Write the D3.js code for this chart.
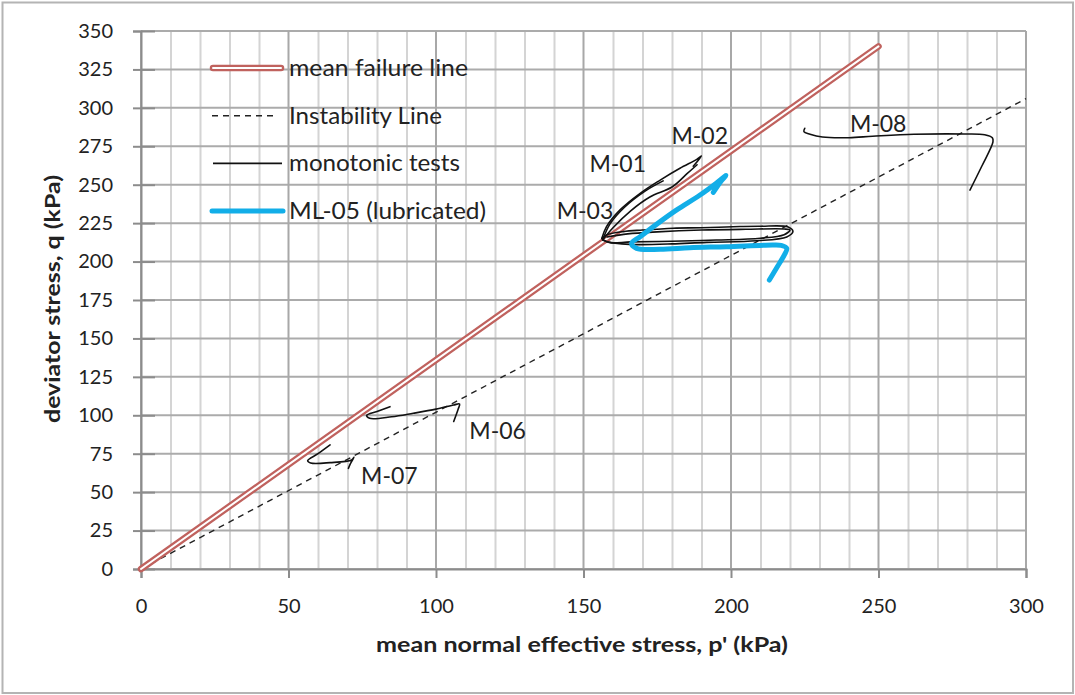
<!DOCTYPE html>
<html>
<head>
<meta charset="utf-8">
<script src="https://cdn.jsdelivr.net/npm/d3@7"></script>
<style>
  body { margin: 0; background: #fff; }
  text { font-family: Lato, "Open Sans", sans-serif; fill: #222; }
</style>
</head>
<body>
<div id="chart"></div>
<script>
// axis ticks
var pTicks = [0, 50, 100, 150, 200, 250, 300];
var pMinorTicks = d3.range(0, 301, 10);
var qTicks = [0, 25, 50, 75, 100, 125, 150, 175, 200, 225, 250, 275, 300, 325, 350];

// reference lines (p', q)
var failureLine = [[0, 0], [250, 340]];
var instabilityLine = [[0, 0], [300, 306]];

// monotonic test stress paths (p', q)
var m01 = [[156.2, 215], [157.8, 222.7], [162.4, 233.6], [169.2, 244.4], [176, 253], [182.7, 260.7], [188.4, 266.5], [190, 268.7], [187.2, 262]];
var m02 = [[156.5, 214], [160, 222], [166, 233], [172.5, 242], [180, 248.5], [185, 257], [188.5, 263]];
var m02b = [[156.8, 215.5], [159, 224.5], [164, 235.5], [171, 246], [177, 252.5]];
var m03 = [[156.2, 215], [157.8, 213], [163, 211.5], [169, 211], [180, 211.5], [191.8, 212.5], [208.7, 213.5], [218.9, 216], [221, 219.5], [219.4, 222.5], [210, 223], [203, 222.8], [190, 222], [180.4, 221.7], [170, 220.5], [163.5, 219.5], [157.8, 217.3], [156.2, 215]];
var m03b = [[156.5, 214], [159, 212.3], [166, 212.8], [180, 213.2], [195, 214], [210, 215.2], [218, 217.5], [220, 220.5], [218, 221.2], [205, 221], [190, 220.5], [175, 219.3], [165, 218], [158, 216]];
var m06 = [[84.4, 105.6], [80, 102.5], [76.5, 100], [77.5, 98], [85, 99], [92.3, 101.3], [100, 104], [106, 106.7], [108, 107.3], [107.5, 104], [106, 96]];
var m07 = [[64.1, 80.7], [60, 75], [56.5, 70.5], [57.5, 69], [64.1, 69.2], [71.4, 70.9], [72.2, 72.7], [71, 68.5], [70.3, 65.5]];
var m08 = [[225, 286.7], [224.7, 284.5], [226.8, 282.8], [231, 281], [240, 280.6], [248, 281.5], [262, 282.8], [279, 283], [286, 282.5], [288.6, 280.5], [288.8, 277.8], [285, 262], [281, 246.5]];

// lubricated test
var ml05 = [[213, 188], [215.5, 196], [218, 204], [218.9, 208.6], [217, 210.5], [214.3, 210.8], [198.5, 209.7], [186, 209], [176, 208], [168, 208.6], [166.3, 211.9], [169.2, 216.2], [176, 226], [181.6, 233.6], [189.5, 243.3], [195, 251], [198.3, 256], [196.5, 252], [194, 245]];

var monotonic = [m01, m02, m02b, m03, m03b, m06, m07, m08];

var curveLabels = [
  {name: "M-01", p: 152, q: 258},
  {name: "M-02", p: 179.8, q: 276.5},
  {name: "M-03", p: 140.9, q: 228},
  {name: "M-06", p: 111.3, q: 84.5},
  {name: "M-07", p: 74.6, q: 55},
  {name: "M-08", p: 240.3, q: 284}
];

var legendItems = ["mean failure line", "Instability Line", "monotonic tests", "ML-05 (lubricated)"];
var legendWidths = [179, 153, 171, 197];

var W = 1075, H = 695;
var svg = d3.select("#chart").append("svg")
    .attr("width", W)
    .attr("height", H);

svg.append("rect")
   .attr("x", 2.5).attr("y", 2.5)
   .attr("width", W - 4.5).attr("height", H - 4.5)
   .attr("fill", "#fff")
   .attr("stroke", "#b4b4b4")
   .attr("stroke-width", 2);

var x = d3.scaleLinear().domain([0, 300]).range([141, 1026]);
var y = d3.scaleLinear().domain([0, 350]).range([569, 31]);

// grid
var grid = svg.append("g");
grid.selectAll(".vminor")
    .data(pMinorTicks.filter(function(d) { return d % 50 !== 0; }))
    .enter().append("line")
    .attr("x1", function(d) { return x(d) + 0.5; })
    .attr("x2", function(d) { return x(d) + 0.5; })
    .attr("y1", y(350)).attr("y2", y(0))
    .attr("stroke", "#d4d4d4").attr("stroke-width", 2);
grid.selectAll(".hline")
    .data(qTicks)
    .enter().append("line")
    .attr("x1", x(0)).attr("x2", x(300))
    .attr("y1", function(d) { return y(d); })
    .attr("y2", function(d) { return y(d); })
    .attr("stroke", "#ababab").attr("stroke-width", 2);
grid.selectAll(".vmajor")
    .data(pTicks)
    .enter().append("line")
    .attr("x1", function(d) { return x(d); })
    .attr("x2", function(d) { return x(d); })
    .attr("y1", y(350)).attr("y2", y(0))
    .attr("stroke", "#a8a8a8").attr("stroke-width", 2);

// axes
var yAxis = svg.append("g")
    .attr("transform", "translate(" + x(0) + ",0)")
    .call(d3.axisLeft(y).tickValues(qTicks).tickSize(8).tickPadding(20));
yAxis.selectAll(".tick line").attr("x1", 14);

var xAxis = svg.append("g")
    .attr("transform", "translate(0," + y(0) + ")")
    .call(d3.axisBottom(x).tickValues(pTicks).tickSize(9).tickPadding(21));

svg.selectAll(".domain").attr("stroke", "#8c8c8c").attr("stroke-width", 2);
svg.selectAll(".tick line").attr("stroke", "#8c8c8c").attr("stroke-width", 2);
svg.selectAll(".tick text")
   .attr("font-family", "Lato, sans-serif")
   .attr("font-size", 20)
   .attr("fill", "#262626");

// axis titles
svg.append("text")
   .attr("x", 376).attr("y", 652)
   .attr("font-size", 21).attr("font-weight", "bold")
   .attr("textLength", 412).attr("lengthAdjust", "spacingAndGlyphs")
   .text("mean normal effective stress, p' (kPa)");
svg.append("text")
   .attr("transform", "translate(60,423) rotate(-90)")
   .attr("font-size", 21).attr("font-weight", "bold")
   .attr("textLength", 248).attr("lengthAdjust", "spacingAndGlyphs")
   .text("deviator stress, q (kPa)");

var line = d3.line()
    .x(function(d) { return x(d[0]); })
    .y(function(d) { return y(d[1]); });
var smooth = d3.line()
    .curve(d3.curveCatmullRom.alpha(0.5))
    .x(function(d) { return x(d[0]); })
    .y(function(d) { return y(d[1]); });

// instability line
svg.append("path")
   .attr("d", line(instabilityLine))
   .attr("fill", "none").attr("stroke", "#222")
   .attr("stroke-width", 1.4).attr("stroke-dasharray", "6,5");

// mean failure line (double stroke)
svg.append("path")
   .attr("d", line(failureLine))
   .attr("fill", "none").attr("stroke", "#c0625e")
   .attr("stroke-width", 6.5).attr("stroke-linecap", "round");
svg.append("path")
   .attr("d", line(failureLine))
   .attr("fill", "none").attr("stroke", "#fff")
   .attr("stroke-width", 2).attr("stroke-linecap", "round");

// monotonic tests
svg.selectAll(".mono")
   .data(monotonic)
   .enter().append("path")
   .attr("class", "mono")
   .attr("d", smooth)
   .attr("fill", "none").attr("stroke", "#111")
   .attr("stroke-width", 1.6)
   .attr("stroke-linejoin", "round").attr("stroke-linecap", "round");

// lubricated test
svg.append("path")
   .attr("d", smooth(ml05))
   .attr("fill", "none").attr("stroke", "#12aee8")
   .attr("stroke-width", 5)
   .attr("stroke-linejoin", "round").attr("stroke-linecap", "round");

// curve labels
svg.selectAll(".clabel")
   .data(curveLabels)
   .enter().append("text")
   .attr("class", "clabel")
   .attr("x", function(d) { return x(d.p); })
   .attr("y", function(d) { return y(d.q); })
   .attr("font-family", "'Liberation Sans', Arial, sans-serif")
   .attr("font-size", 23)
   .attr("fill", "#1a1a2e")
   .text(function(d) { return d.name; });

// legend
var legend = svg.append("g").attr("transform", "translate(211,68)");
var rowH = 47.7;
var rows = legend.selectAll(".row")
    .data(legendItems)
    .enter().append("g")
    .attr("transform", function(d, i) { return "translate(0," + (i * rowH) + ")"; });

rows.each(function(d, i) {
  var g = d3.select(this);
  if (i === 0) {
    g.append("line").attr("x1", 2).attr("x2", 70)
     .attr("stroke", "#c0625e").attr("stroke-width", 6.5).attr("stroke-linecap", "round");
    g.append("line").attr("x1", 2).attr("x2", 70)
     .attr("stroke", "#fff").attr("stroke-width", 2).attr("stroke-linecap", "round");
  } else if (i === 1) {
    g.append("line").attr("x1", 1).attr("x2", 66)
     .attr("stroke", "#222").attr("stroke-width", 1.4).attr("stroke-dasharray", "6,5");
  } else if (i === 2) {
    g.append("line").attr("x1", 2).attr("x2", 71)
     .attr("stroke", "#111").attr("stroke-width", 1.6);
  } else {
    g.append("line").attr("x1", 1).attr("x2", 72)
     .attr("stroke", "#12aee8").attr("stroke-width", 5).attr("stroke-linecap", "round");
  }
  g.append("text")
   .attr("x", 78).attr("y", 8)
   .attr("font-size", 23)
   .attr("textLength", legendWidths[i]).attr("lengthAdjust", "spacingAndGlyphs")
   .attr("fill", "#1e1a24")
   .text(d);
});
</script>
</body>
</html>
